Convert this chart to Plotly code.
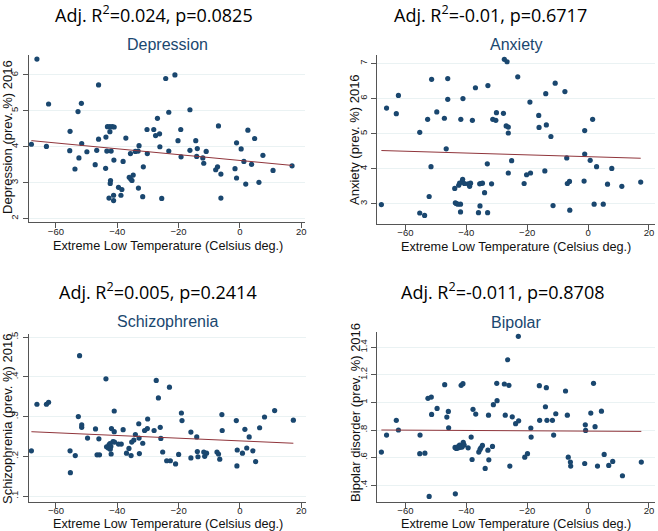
import plotly.graph_objects as go

# Extreme low temperature (Celsius deg.) vs prevalence (%) 2016
dep_x = [-68.0, -66.2, -63.1, -62.4, -55.4, -55.5, -53.8, -52.8, -52.5, -51.7, -51.6, -49.9, -47.2, -46.7,
         -46.1, -46.1, -43.8, -43.7, -43.4, -43.2, -42.7, -42.4, -42.4, -42.3, -42.2, -42.0, -41.6, -41.1,
         -41.0, -41.2, -41.2, -39.6, -38.8, -38.5, -38.1, -37.2, -36.1, -35.7, -35.6, -35.2, -34.8, -34.1,
         -33.2, -33.1, -32.9, -31.7, -31.5, -30.3, -30.2, -28.1, -27.5, -26.9, -26.2, -26.1, -25.5, -24.2,
         -23.2, -23.2, -21.2, -20.2, -19.3, -19.2, -16.3, -16.3, -14.4, -14.1, -13.9, -12.1, -11.8, -11.0,
         -7.9, -7.3, -7.0, -6.2, -6.2, -1.6, -1.1, -1.1, 0.4, 1.3, 1.9, 2.6, 3.8, 4.8, 6.2, 7.5, 10.8, 17.0]
dep_y = [4.07, 6.44, 4.01, 5.19, 4.43, 3.89, 3.38, 4.98, 3.69, 5.21, 4.09, 3.86, 3.50, 3.90,
         5.72, 4.21, 3.40, 4.27, 3.88, 4.56, 2.57, 4.42, 4.56, 2.98, 3.06, 3.88, 4.56, 3.63,
         4.55, 2.65, 2.50, 2.87, 2.65, 2.81, 3.59, 4.24, 3.15, 3.81, 3.10, 3.06, 3.21, 3.87,
         3.88, 2.85, 4.03, 2.61, 3.44, 4.48, 3.81, 4.48, 4.31, 4.79, 4.36, 4.00, 2.56, 5.90,
         4.96, 3.88, 6.00, 4.17, 4.48, 3.72, 5.03, 3.90, 4.17, 3.73, 3.95, 3.69, 3.54, 3.87,
         3.36, 3.44, 4.58, 3.24, 2.57, 3.39, 4.11, 3.13, 3.94, 3.59, 2.96, 4.46, 3.51, 4.23, 3.01, 3.76, 3.34, 3.47]

anx_x = [-67.9, -66.2, -63.0, -62.3, -55.3, -55.3, -53.7, -52.7, -52.2, -51.6, -51.4, -49.7, -47.2, -46.6,
         -46.1, -46.1, -43.8, -43.6, -43.3, -42.8, -42.5, -42.2, -41.9, -41.9, -41.8, -41.3, -41.2, -41.1,
         -40.6, -39.4, -38.9, -38.6, -38.0, -37.0, -36.0, -35.6, -35.5, -35.2, -34.7, -34.0, -33.1, -33.0,
         -32.9, -31.7, -31.3, -30.3, -30.1, -27.8, -27.5, -26.6, -26.9, -26.2, -26.2, -26.2, -25.1, -23.1,
         -21.0, -20.2, -19.1, -18.9, -16.2, -16.1, -14.2, -13.9, -13.7, -12.2, -11.5, -10.8, -7.6, -7.0,
         -6.8, -6.1, -6.0, -1.3, -1.1, -1.1, 0.7, 1.5, 2.0, 2.8, 5.0, 6.4, 7.8, 11.1, 17.3]
anx_y = [2.98, 5.73, 5.57, 6.09, 5.04, 2.74, 2.67, 5.41, 3.21, 4.06, 6.55, 5.62, 5.44, 4.57,
         6.57, 5.98, 3.44, 3.03, 3.01, 2.99, 3.53, 3.59, 2.99, 2.77, 5.41, 3.64, 3.70, 6.00,
         3.58, 3.57, 3.50, 3.59, 5.38, 6.31, 2.75, 3.57, 2.94, 3.58, 3.59, 3.32, 4.14, 2.75,
         6.37, 3.57, 5.41, 5.38, 5.60, 5.58, 7.12, 7.05, 5.22, 5.19, 5.02, 3.88, 4.23, 6.62,
         3.58, 3.83, 5.90, 3.88, 5.52, 5.18, 3.94, 6.14, 5.25, 4.92, 2.95, 6.44, 6.20, 4.31,
         3.58, 3.64, 2.82, 3.65, 5.09, 4.42, 4.24, 5.41, 2.99, 4.06, 2.99, 3.56, 4.01, 3.50, 3.62]

sch_x = [-68.0, -66.2, -63.1, -62.4, -55.4, -55.3, -53.7, -52.7, -52.3, -51.6, -51.6, -49.7, -47.1, -46.6,
         -46.0, -45.8, -43.7, -43.5, -42.9, -42.7, -42.4, -42.3, -42.1, -41.9, -42.0, -41.4, -41.0, -41.0,
         -40.9, -39.6, -38.7, -38.1, -37.0, -36.2, -35.5, -35.3, -34.6, -34.1, -33.0, -32.9, -32.8, -31.7,
         -31.1, -30.2, -30.1, -28.0, -27.3, -26.6, -26.0, -25.8, -25.2, -23.9, -23.0, -22.7, -21.0, -20.0,
         -19.1, -18.9, -16.0, -16.0, -14.1, -13.9, -13.7, -11.8, -11.5, -10.9, -7.5, -7.0, -6.6, -5.9,
         -5.8, -1.2, -1.0, -0.9, 0.8, 1.6, 2.2, 3.0, 4.2, 5.1, 6.4, 8.0, 11.3, 17.4]
sch_y = [0.214, 0.331, 0.331, 0.336, 0.214, 0.159, 0.202, 0.300, 0.453, 0.279, 0.273, 0.246, 0.269, 0.204,
         0.244, 0.204, 0.395, 0.224, 0.221, 0.229, 0.232, 0.218, 0.225, 0.270, 0.206, 0.237, 0.314, 0.262,
         0.236, 0.231, 0.231, 0.267, 0.208, 0.220, 0.202, 0.236, 0.241, 0.255, 0.282, 0.246, 0.207, 0.233,
         0.265, 0.270, 0.294, 0.265, 0.391, 0.347, 0.273, 0.245, 0.211, 0.189, 0.374, 0.189, 0.181, 0.205,
         0.309, 0.290, 0.261, 0.196, 0.249, 0.212, 0.199, 0.211, 0.200, 0.208, 0.211, 0.206, 0.193, 0.305,
         0.265, 0.290, 0.176, 0.216, 0.208, 0.268, 0.221, 0.249, 0.214, 0.187, 0.272, 0.299, 0.315, 0.291]

bip_x = [-67.9, -66.2, -63.0, -62.3, -55.2, -55.3, -53.6, -52.6, -52.2, -51.5, -51.4, -49.6, -47.1, -46.4,
         -45.9, -45.8, -43.7, -43.6, -43.3, -42.8, -42.6, -42.4, -42.2, -41.9, -41.7, -41.4, -41.1, -41.0,
         -40.7, -39.4, -38.4, -38.1, -37.8, -36.9, -35.9, -35.5, -35.2, -34.7, -33.8, -32.9, -32.7, -32.6,
         -31.4, -31.1, -30.0, -29.9, -27.5, -27.2, -26.4, -26.0, -25.7, -24.9, -23.8, -22.9, -22.8, -20.8,
         -19.9, -18.8, -18.7, -16.0, -15.9, -14.0, -13.7, -13.5, -11.7, -11.3, -10.6, -7.4, -6.8, -6.5,
         -5.8, -5.7, -1.1, -0.9, -0.8, 0.9, 1.8, 2.3, 3.1, 4.4, 5.3, 6.8, 8.1, 11.3, 17.5]
bip_y = [0.640, 0.763, 0.870, 0.800, 0.763, 0.628, 0.632, 1.030, 0.318, 1.039, 0.913, 0.957, 1.129, 0.894,
         0.935, 0.816, 0.674, 0.337, 0.666, 0.669, 0.681, 0.674, 0.691, 0.676, 1.124, 0.676, 1.136, 0.710,
         0.691, 0.671, 0.749, 0.586, 0.950, 0.916, 0.640, 0.659, 0.671, 0.688, 0.521, 0.654, 0.908, 0.584,
         0.681, 0.984, 1.139, 1.013, 1.134, 0.908, 1.310, 1.124, 0.538, 0.896, 0.846, 1.480, 0.867, 0.603,
         0.628, 0.814, 0.749, 1.122, 0.870, 0.969, 1.107, 0.870, 0.870, 0.763, 0.918, 1.083, 0.908, 0.603,
         0.567, 0.538, 0.557, 0.838, 0.797, 0.923, 1.139, 0.824, 0.538, 0.937, 0.623, 0.543, 0.572, 0.468, 0.567]

# fitted line values at the lowest / highest temperature
dep_fit = [4.17, 3.48]
anx_fit = [4.52, 4.30]
sch_fit = [0.262, 0.233]
bip_fit = [0.800, 0.790]

titles = ["Depression", "Anxiety", "Schizophrenia", "Bipolar"]
stats = ["Adj. R<sup>2</sup>=0.024, p=0.0825", "Adj. R<sup>2</sup>=-0.01, p=0.6717",
         "Adj. R<sup>2</sup>=0.005, p=0.2414", "Adj. R<sup>2</sup>=-0.011, p=0.8708"]
ytitles = ["Depression (prev. %) 2016", "Anxiety (prev. %) 2016",
           "Schizophrenia (prev. %) 2016", "Bipolar disorder (prev. %) 2016"]
yticks = [[2, 3, 4, 5, 6], [3, 4, 5, 6, 7], [0.1, 0.2, 0.3, 0.4, 0.5], [0.4, 0.6, 0.8, 1.0, 1.2, 1.4]]
yticktext = [["2", "3", "4", "5", "6"], ["3", "4", "5", "6", "7"],
             [".1", ".2", ".3", ".4", ".5"], [".4", ".6", ".8", "1", "1.2", "1.4"]]
xticks = [-60, -40, -20, 0, 20]

W, H = 658, 531
NAVY = "#1a476f"
MAROON = "#90353b"
TICKFONT = dict(family="Liberation Sans, Arial", size=9.5, color="#222")

series = [(dep_x, dep_y, dep_fit), (anx_x, anx_y, anx_fit), (sch_x, sch_y, sch_fit), (bip_x, bip_y, bip_fit)]

# plot regions in pixels: left, right, top, bottom
boxes = [(29, 305.7, 53, 221), (378, 655.7, 53.3, 222.7),
         (29, 306.7, 333.3, 501.7), (378, 655.7, 331.7, 501.7)]
xranges = [[-68.8, 21.3], [-69.2, 21.9], [-68.8, 21.6], [-69.2, 21.9]]
yranges = [[1.9, 6.56], [2.43, 7.24], [0.0858, 0.5075], [0.279, 1.508]]
ystandoff = [1, 1, 1, 1]

stat_pos = [(154, 12), (491, 12), (158, 290), (503, 290)]
sub_pos = [(168, 43), (517, 43), (168, 321), (517, 321.5)]
ytitle_pos = [(7.5, 135), (355.5, 137.5), (7.5, 418), (356, 412)]
xtitle_pos = [(168, 245), (517, 245.7), (168, 524), (517, 524)]

fig = go.Figure()
annotations = []
for i, (xs, ys, fit) in enumerate(series):
    n = "" if i == 0 else str(i + 1)
    fig.add_trace(go.Scatter(x=xs, y=ys, mode="markers", xaxis="x" + n, yaxis="y" + n,
                             marker=dict(color=NAVY, size=5.2), showlegend=False))
    fig.add_trace(go.Scatter(x=[min(xs), max(xs)], y=fit, mode="lines", xaxis="x" + n, yaxis="y" + n,
                             line=dict(color=MAROON, width=1), showlegend=False))
    l, r, t, b = boxes[i]
    fig.update_layout(**{
        "xaxis" + n: dict(domain=[l / W, r / W], range=xranges[i], anchor="y" + n,
                          tickvals=xticks, ticks="outside", ticklen=5, tickcolor="#555",
                          ticklabelstandoff=-5,
                          showline=True, linecolor="#555", linewidth=1, showgrid=False,
                          zeroline=False, tickfont=TICKFONT),
        "yaxis" + n: dict(domain=[1 - b / H, 1 - t / H], range=yranges[i], anchor="x" + n,
                          tickvals=yticks[i], ticktext=yticktext[i], tickangle=-90,
                          ticks="outside", ticklen=5, tickcolor="#555", ticklabelstandoff=ystandoff[i],
                          showline=True, linecolor="#555", linewidth=1,
                          showgrid=True, gridcolor="#eaf2f3", gridwidth=1,
                          zeroline=False, tickfont=TICKFONT),
    })
    sx, sy = stat_pos[i]
    annotations.append(dict(text=stats[i], x=sx / W, y=1 - sy / H, xref="paper", yref="paper",
                            showarrow=False, xanchor="center", yanchor="middle",
                            font=dict(family="Open Sans", size=18, color="black")))
    ux, uy = sub_pos[i]
    annotations.append(dict(text=titles[i], x=ux / W, y=1 - uy / H, xref="paper", yref="paper",
                            showarrow=False, xanchor="center", yanchor="middle",
                            font=dict(family="Liberation Sans, Arial", size=16, color=NAVY)))
    yx, yy = ytitle_pos[i]
    annotations.append(dict(text=ytitles[i], x=yx / W, y=1 - yy / H, xref="paper", yref="paper",
                            showarrow=False, xanchor="center", yanchor="middle", textangle=-90,
                            borderpad=0,
                            font=dict(family="Liberation Sans, Arial", size=13, color="#111")))
    xx, xy = xtitle_pos[i]
    annotations.append(dict(text="Extreme Low Temperature (Celsius deg.)", x=xx / W, y=1 - xy / H,
                            xref="paper", yref="paper", showarrow=False,
                            xanchor="center", yanchor="middle",
                            font=dict(family="Liberation Sans, Arial", size=12.7, color="#111")))

fig.update_layout(width=W, height=H, margin=dict(l=0, r=0, t=0, b=0),
                  paper_bgcolor="white", plot_bgcolor="white", annotations=annotations)

# the page body has a default 8px margin; drop it so the figure fills the window
fig.write_html("out.html", config={"displayModeBar": False},
               post_script="document.body.style.margin='0';")
